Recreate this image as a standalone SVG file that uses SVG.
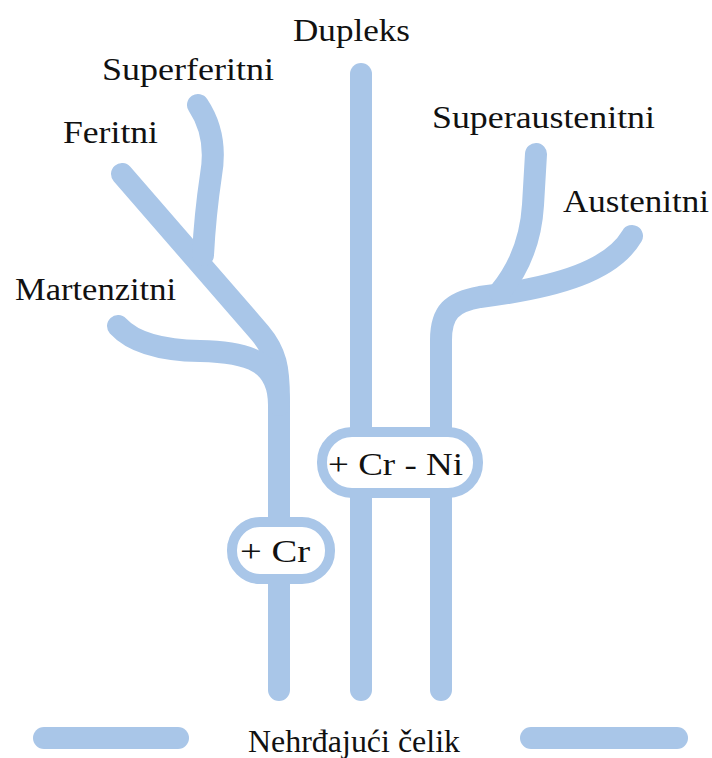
<svg xmlns="http://www.w3.org/2000/svg" width="712" height="758" viewBox="0 0 712 758">
<style>
.br{fill:none;stroke:#a9c6e8;stroke-width:22;stroke-linecap:round;stroke-linejoin:round}
.pill{fill:#ffffff;stroke:#a9c6e8;stroke-width:10}
.t{font-family:"Liberation Serif","Times New Roman",serif;font-size:31px;fill:#111111}
</style>
<rect width="712" height="758" fill="#ffffff"/>
<g id="connectors">
<path class="br" d="M279,690 L279,400 C279,368 276,352 260,333 L122,174"/>
<path class="br" d="M198,105 Q218,135 211,175 Q205,215 203,255"/>
<path class="br" d="M118,326 Q140,350 200,351 C250,352 279,362 279,405"/>
<path class="br" d="M361,690 L361,74"/>
<path class="br" d="M441,690 L441,340 C441,312 452,302 480,297 C560,287 612,270 632,236"/>
<path class="br" d="M536,154 L533,205 Q530,255 500,292"/>
<path class="br" d="M44,738 L178,738"/>
<path class="br" d="M531,738 L677,738"/>
</g>
<g id="dupleks"><text class="t" x="293" y="41" textLength="117" lengthAdjust="spacingAndGlyphs">Dupleks</text></g>
<g id="superferitni"><text class="t" x="102" y="80" textLength="172" lengthAdjust="spacingAndGlyphs">Superferitni</text></g>
<g id="feritni"><text class="t" x="63" y="143" textLength="95" lengthAdjust="spacingAndGlyphs">Feritni</text></g>
<g id="martenzitni"><text class="t" x="15" y="300" textLength="161" lengthAdjust="spacingAndGlyphs">Martenzitni</text></g>
<g id="superaustenitni"><text class="t" x="432" y="128" textLength="223" lengthAdjust="spacingAndGlyphs">Superaustenitni</text></g>
<g id="austenitni"><text class="t" x="563" y="212" textLength="146" lengthAdjust="spacingAndGlyphs">Austenitni</text></g>
<g id="cr-ni"><rect class="pill" x="322" y="432" width="156" height="61" rx="30"/><text class="t" x="328" y="475" textLength="135" lengthAdjust="spacingAndGlyphs">+ Cr - Ni</text></g>
<g id="cr"><rect class="pill" x="232" y="522" width="98" height="57" rx="28"/><text class="t" x="240" y="562" textLength="70" lengthAdjust="spacingAndGlyphs">+ Cr</text></g>
<g id="nehrdajuci-celik"><text class="t" x="248" y="752" textLength="212" lengthAdjust="spacingAndGlyphs">Nehrđajući čelik</text></g>
</svg>
